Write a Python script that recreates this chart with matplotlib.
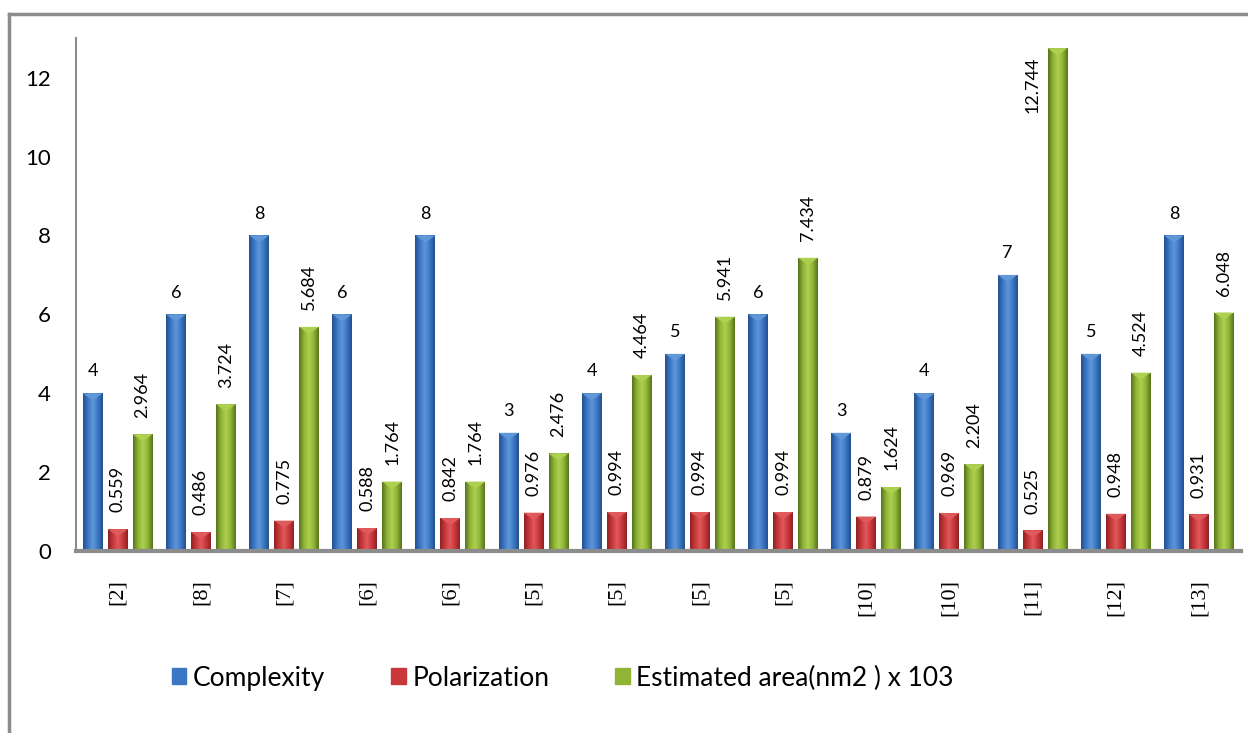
import numpy as np
import matplotlib.pyplot as plt
from matplotlib.colors import LinearSegmentedColormap
from matplotlib.lines import Line2D

categories = ['[2]', '[8]', '[7]', '[6]', '[6]', '[5]', '[5]', '[5]', '[5]',
              '[10]', '[10]', '[11]', '[12]', '[13]']
complexity = [4, 6, 8, 6, 8, 3, 4, 5, 6, 3, 4, 7, 5, 8]
polarization = [0.559, 0.486, 0.775, 0.588, 0.842, 0.976, 0.994, 0.994, 0.994,
                0.879, 0.969, 0.525, 0.948, 0.931]
area = [2.964, 3.724, 5.684, 1.764, 1.764, 2.476, 4.464, 5.941, 7.434,
        1.624, 2.204, 12.744, 4.524, 6.048]
series_names = ['Complexity', 'Polarization', 'Estimated area(nm2 ) x 103']

# dark edge, mid, light for each series
palette = [('#244f8c', '#3b78c4', '#5f97d8'),
           ('#8e2224', '#c9373a', '#e0595b'),
           ('#56741c', '#8fb436', '#aed050')]

plt.rcParams['font.family'] = ['Lato', 'DejaVu Sans']

fig = plt.figure(figsize=(12.48, 7.33), dpi=100)
ax = fig.add_axes([0.061, 0.248, 0.933, 0.700])

x = np.arange(len(categories))
w = 0.24
off = 0.30


def shaded_bars(xpos, vals, cols):
    bars = ax.bar(xpos, vals, w, color=cols[1], zorder=2)
    cmap = LinearSegmentedColormap.from_list('g', [cols[0], cols[1], cols[2], cols[1], cols[0]])
    grad = np.linspace(0, 1, 64).reshape(1, -1)
    for b in bars:
        x0, y0 = b.get_x(), b.get_y()
        bw, bh = b.get_width(), b.get_height()
        im = ax.imshow(grad, cmap=cmap, aspect='auto', zorder=3,
                       extent=[x0, x0 + bw, y0, y0 + bh])
        im.set_clip_path(b)
        # small bevel triangle on the top
        th = min(0.18, bh * 0.5)
        ax.fill([x0, x0 + bw, x0 + bw / 2], [y0 + bh, y0 + bh, y0 + bh - th],
                color=cols[2], zorder=4, lw=0)
    return bars


shaded_bars(x - off, complexity, palette[0])
shaded_bars(x, polarization, palette[1])
shaded_bars(x + off, area, palette[2])

ymax = 13
for xi, v in zip(x - off, complexity):
    ax.annotate(f'{v}', (xi, v), xytext=(0, 10), textcoords='offset points',
                ha='center', va='bottom', fontsize=13)
for xi, v in zip(x, polarization):
    ax.annotate(f'{v:.3f}', (xi, v), xytext=(0, 12), textcoords='offset points',
                ha='center', va='bottom', rotation=90, fontsize=13)
for xi, v in zip(x + off, area):
    if v > ymax - 1.5:
        # no room above: put the label beside the bar, as in the source chart
        ax.annotate(f'{v:.3f}', (xi - off, v), xytext=(0, -6), textcoords='offset points',
                    ha='center', va='top', rotation=90, fontsize=13)
    else:
        ax.annotate(f'{v:.3f}', (xi, v), xytext=(0, 12), textcoords='offset points',
                    ha='center', va='bottom', rotation=90, fontsize=13)

ax.set_xlim(-0.5, len(categories) - 0.5)
ax.set_ylim(0, ymax)
ax.set_yticks(range(0, 13, 2))
ax.tick_params(axis='y', length=0, labelsize=16, pad=18)
ax.tick_params(axis='x', length=0, pad=20)
ax.set_xticks(x)
ax.set_xticklabels(categories, rotation=90, fontsize=16, family='Liberation Serif')

for s in ['top', 'right']:
    ax.spines[s].set_visible(False)
ax.spines['left'].set_color('#8c8c8c')
ax.spines['left'].set_linewidth(1.5)
ax.spines['bottom'].set_color('#8c8c8c')
ax.spines['bottom'].set_linewidth(3)
ax.spines['bottom'].set_zorder(5)

handles = [plt.Rectangle((0, 0), 1, 1, color=c[1]) for c in palette]
fig.legend(handles, series_names, loc='center', bbox_to_anchor=(0.451, 0.075),
           ncol=3, frameon=False, fontsize=19, handlelength=0.55, handleheight=0.55,
           handletextpad=0.25, columnspacing=2.5)

# outer chart frame
fig.add_artist(Line2D([9 / 1248, 9 / 1248], [0, 1 - 14 / 733], color='#8c8c8c', lw=2.5,
                      transform=fig.transFigure))
fig.add_artist(Line2D([9 / 1248, 1], [1 - 14 / 733, 1 - 14 / 733], color='#8c8c8c', lw=2.5,
                      transform=fig.transFigure))

fig.savefig('out.png', dpi=100)
